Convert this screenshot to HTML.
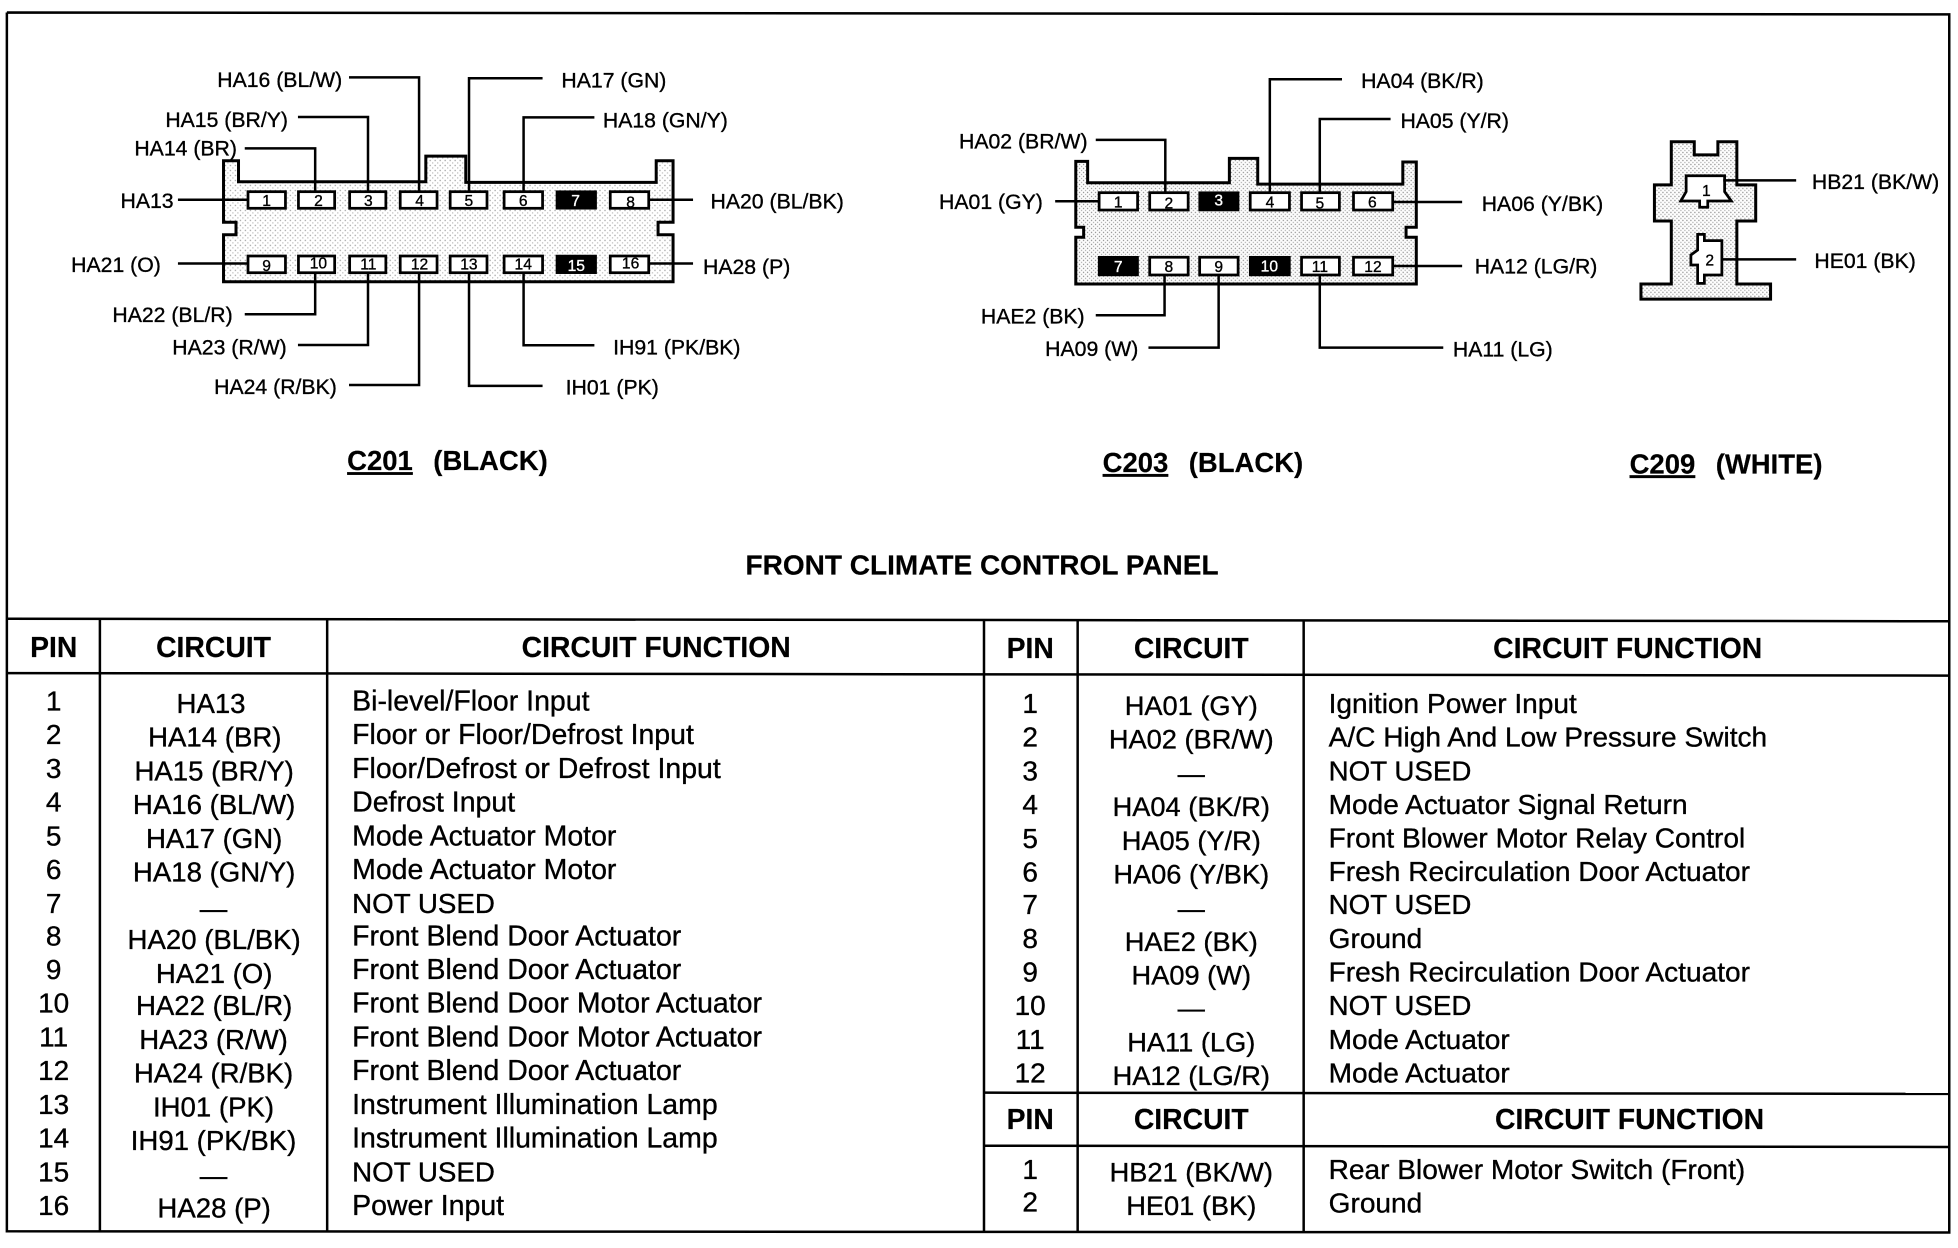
<!DOCTYPE html>
<html><head><meta charset="utf-8"><title>Front Climate Control Panel</title>
<style>
html,body{margin:0;padding:0;background:#fff;width:1958px;height:1248px;overflow:hidden}
svg{display:block;position:absolute;left:0;top:0}
text{font-family:"Liberation Sans",Arial,sans-serif;fill:#000;stroke:#000;stroke-width:.28}
.l{font-size:17px}
.t{font-size:22.4px}
.h{font-size:22.7px}
.fl{font-size:22.8px}
.fr{font-size:22.5px}
.cl{font-size:22.1px}
.cr{font-size:21.8px}
.c{text-anchor:middle}
.b{font-weight:bold;stroke-width:.15}
.ti{font-size:22px}
.n{font-size:12.5px;text-anchor:middle}
.w{font-size:12.5px;text-anchor:middle;fill:#fff;stroke:#fff}
.ln{fill:none;stroke:#000;stroke-width:2}
.p{fill:#fff;stroke:#000;stroke-width:2.2}
.k{fill:#000;stroke:#000;stroke-width:2}
.o{fill:url(#st);stroke:#000;stroke-width:2.4;stroke-linejoin:miter}
.o2{fill:url(#st2);stroke:#000;stroke-width:2.4;stroke-linejoin:miter}
.g{fill:none;stroke:#000;stroke-width:2}
</style></head><body>
<svg width="1958" height="1248" viewBox="0 0 1568 999.4" preserveAspectRatio="none" xmlns="http://www.w3.org/2000/svg">
<defs>
<pattern id="st" width="4" height="4" patternUnits="userSpaceOnUse"><rect width="4" height="4" fill="#fff"/><rect x="0" y="0" width="1" height="1" fill="#999"/><rect x="2" y="2" width="1" height="1" fill="#bbb"/></pattern>
<pattern id="st2" width="3.2" height="3.2" patternUnits="userSpaceOnUse"><rect width="3.2" height="3.2" fill="#fff"/><rect x="0" y="0" width="1" height="1" fill="#888"/><rect x="1.6" y="1.6" width="1" height="1" fill="#aaa"/></pattern>
</defs>
<rect width="1568" height="1000" fill="#fff"/>

<!-- frame -->
<polyline class="g" points="5.5,10 1561,11.5 1561,987 5.5,986 5.5,10"/>
<line class="g" x1="5.5" y1="495.5" x2="1561" y2="497.5"/>
<line class="g" x1="5.5" y1="539" x2="1561" y2="541"/>
<line class="g" x1="80" y1="496" x2="80" y2="986"/>
<line class="g" x1="262" y1="496" x2="262" y2="986"/>
<line class="g" x1="788" y1="496" x2="788" y2="987"/>
<line class="g" x1="863" y1="497" x2="863" y2="987"/>
<line class="g" x1="1044" y1="497" x2="1044" y2="987"/>
<line class="g" x1="788" y1="875" x2="1561" y2="876"/>
<line class="g" x1="788" y1="917.5" x2="1561" y2="918.5"/>

<!-- C201 connector -->
<path class="o" d="M179,128.7H191V145.5H341V125H373V146H525.5V128.7H539V178H527V188H539V225.6H179V188H189V178H179Z"/>
<g class="ln">
<polyline points="279.5,62 335.6,62 335.6,153"/>
<polyline points="434.5,62.7 375.6,62.7 375.6,153"/>
<polyline points="238.6,93.7 294.7,93.7 294.7,153"/>
<polyline points="476,94 419.3,94 419.3,153"/>
<polyline points="196,118.8 252.4,118.8 252.4,153"/>
<polyline points="142.5,160 198.6,160"/>
<polyline points="519.5,160 555,160"/>
<polyline points="142.5,211 198.6,211"/>
<polyline points="519.5,211 555,211"/>
<polyline points="252.4,218 252.4,251.7 196,251.7"/>
<polyline points="294.7,218 294.7,276.3 238.6,276.3"/>
<polyline points="335.6,218 335.6,308.3 279.5,308.3"/>
<polyline points="375.6,218 375.6,309 434.5,309"/>
<polyline points="419.3,218 419.3,276.5 476,276.5"/>
</g>
<rect class="p" x="198.6" y="153.5" width="30" height="13.3"/><rect class="p" x="239" y="153.5" width="29" height="13.3"/><rect class="p" x="280" y="153.5" width="29" height="13.3"/><rect class="p" x="320.5" y="153.5" width="29.5" height="13.3"/><rect class="p" x="360.5" y="153.5" width="29.5" height="13.3"/><rect class="p" x="403.7" y="153.5" width="30.8" height="13.3"/><rect class="k" x="446" y="153.5" width="31" height="13.3"/><rect class="p" x="488.7" y="153.5" width="30.8" height="13.3"/>
<rect class="p" x="198.6" y="205" width="30" height="13.4"/><rect class="p" x="239" y="205" width="29" height="13.4"/><rect class="p" x="280" y="205" width="29" height="13.4"/><rect class="p" x="320.5" y="205" width="29.5" height="13.4"/><rect class="p" x="360.5" y="205" width="29.5" height="13.4"/><rect class="p" x="403.7" y="205" width="30.8" height="13.4"/><rect class="k" x="446" y="205" width="31" height="13.4"/><rect class="p" x="488.7" y="205" width="30.8" height="13.4"/>
<text class="n" x="213.5" y="165">1</text><text class="n" x="255" y="165">2</text><text class="n" x="295" y="165">3</text><text class="n" x="336" y="165">4</text><text class="n" x="375.5" y="165">5</text><text class="n" x="419" y="165">6</text><text class="w" x="461" y="165">7</text><text class="n" x="505" y="166">8</text>
<text class="n" x="213.5" y="217">9</text><text class="n" x="255" y="215">10</text><text class="n" x="295" y="216">11</text><text class="n" x="336" y="216">12</text><text class="n" x="375.5" y="216">13</text><text class="n" x="419" y="216">14</text><text class="w" x="461.5" y="217">15</text><text class="n" x="505" y="215">16</text>

<text class="l" x="174" y="69.5">HA16 (BL/W)</text>
<text class="l" x="449.6" y="70">HA17 (GN)</text>
<text class="l" x="132.4" y="101.6">HA15 (BR/Y)</text>
<text class="l" x="482.8" y="102">HA18 (GN/Y)</text>
<text class="l" x="107.6" y="124.5">HA14 (BR)</text>
<text class="l" x="96.5" y="166.5">HA13</text>
<text class="l" x="569" y="167">HA20 (BL/BK)</text>
<text class="l" x="57" y="218">HA21 (O)</text>
<text class="l" x="563" y="219.5">HA28 (P)</text>
<text class="l" x="90" y="258">HA22 (BL/R)</text>
<text class="l" x="138" y="284">HA23 (R/W)</text>
<text class="l" x="171.5" y="315.5">HA24 (R/BK)</text>
<text class="l" x="491" y="284">IH91 (PK/BK)</text>
<text class="l" x="453" y="316">IH01 (PK)</text>

<!-- C203 connector -->
<path class="o2" d="M861.5,129.2H871V146.3H984.5V126.8H1007.2V147.4H1123.4V129.7H1134.2V182H1126V190H1134.2V227.4H861.5V190H867.8V182H861.5Z"/>
<g class="ln">
<polyline points="877.5,112 933.2,112 933.2,154"/>
<polyline points="1074.7,63.5 1016.9,63.5 1016.9,154"/>
<polyline points="1113.6,95.3 1056.9,95.3 1056.9,154"/>
<polyline points="845,161.2 880.2,161.2"/>
<polyline points="1115.3,161.8 1170.9,161.8"/>
<polyline points="1115.3,213 1170.9,213"/>
<polyline points="932.6,220 932.6,252.5 877.5,252.5"/>
<polyline points="975.9,220 975.9,278.4 919.7,278.4"/>
<polyline points="1056.9,220 1056.9,278.4 1155.8,278.4"/>
</g>
<rect class="p" x="880.2" y="154.3" width="30.8" height="13.9"/><rect class="p" x="920.7" y="154.3" width="30.8" height="13.9"/><rect class="k" x="960.7" y="154.3" width="30.8" height="13.9"/><rect class="p" x="1001.2" y="154.3" width="31.4" height="13.9"/><rect class="p" x="1042.3" y="154.3" width="30.3" height="13.9"/><rect class="p" x="1083.9" y="154.3" width="31.4" height="13.9"/>
<rect class="k" x="880.2" y="206" width="30.8" height="14.2"/><rect class="p" x="920.7" y="206" width="30.8" height="14.2"/><rect class="p" x="960.7" y="206" width="30.8" height="14.2"/><rect class="k" x="1001.2" y="206" width="31.4" height="14.2"/><rect class="p" x="1042.3" y="206" width="30.3" height="14.2"/><rect class="p" x="1083.9" y="206" width="31.4" height="14.2"/>
<text class="n" x="895.5" y="166">1</text><text class="n" x="936" y="167">2</text><text class="w" x="976" y="164.5">3</text><text class="n" x="1017" y="166">4</text><text class="n" x="1057" y="167">5</text><text class="n" x="1099" y="166">6</text>
<text class="w" x="895.5" y="218">7</text><text class="n" x="936" y="218">8</text><text class="n" x="976" y="218">9</text><text class="w" x="1016.5" y="217.5">10</text><text class="n" x="1057" y="218">11</text><text class="n" x="1099.5" y="218">12</text>

<text class="l" x="1090" y="70.5">HA04 (BK/R)</text>
<text class="l" x="1121.5" y="102.5">HA05 (Y/R)</text>
<text class="l" x="768" y="119">HA02 (BR/W)</text>
<text class="l" x="752" y="167.5">HA01 (GY)</text>
<text class="l" x="1186.6" y="169">HA06 (Y/BK)</text>
<text class="l" x="1181" y="219">HA12 (LG/R)</text>
<text class="l" x="785.5" y="259">HAE2 (BK)</text>
<text class="l" x="837" y="285">HA09 (W)</text>
<text class="l" x="1163.5" y="285.5">HA11 (LG)</text>

<!-- C209 connector -->
<path class="o2" d="M1338.4,113.5H1356.8V124H1375.7V113.5H1390.9V148H1406V177H1390.9V227.4H1417.9V239.5H1314.1V227.4H1338.4V177H1324.9V148H1338.4Z"/>
<path class="p" d="M1350.3,140.7H1381.1V153.5L1386.5,161H1367.6V166H1361.1V161H1346L1350.3,153.5Z"/>
<path class="p" d="M1359.5,187.7H1364.9V192.7H1378.9V220.2H1364.9V226.9H1359.5V212.2H1354.1V204.2L1359.5,200.2Z"/>
<polyline class="ln" points="1380,144.4 1438.4,144.4"/>
<polyline class="ln" points="1378.9,207.7 1438.4,207.7"/>
<text class="n" x="1366.5" y="157">1</text><text class="n" x="1369.2" y="212.5">2</text>
<text class="l" x="1451" y="151.5">HB21 (BK/W)</text>
<text class="l" x="1453" y="214.5">HE01 (BK)</text>

<!-- titles -->
<text class="ti b" x="278" y="376.5" style="text-decoration:underline">C201</text>
<text class="ti b" x="347" y="376.5">(BLACK)</text>
<text class="ti b" x="883" y="378" style="text-decoration:underline">C203</text>
<text class="ti b" x="952" y="378">(BLACK)</text>
<text class="ti b" x="1305" y="379" style="text-decoration:underline">C209</text>
<text class="ti b" x="1374" y="379">(WHITE)</text>
<text class="b" x="597" y="460" style="font-size:22.45px">FRONT CLIMATE CONTROL PANEL</text>

<!-- headers -->
<text class="h b c" x="43" y="526">PIN</text><text class="h b c" x="171" y="526">CIRCUIT</text><text class="h b c" x="525.5" y="526">CIRCUIT FUNCTION</text>
<text class="h b c" x="825" y="527">PIN</text><text class="h b c" x="954" y="527">CIRCUIT</text><text class="h b c" x="1303.5" y="527">CIRCUIT FUNCTION</text>
<text class="h b c" x="825" y="904">PIN</text><text class="h b c" x="954" y="904">CIRCUIT</text><text class="h b c" x="1305" y="904">CIRCUIT FUNCTION</text>

<!-- left table pins -->
<text class="t c" x="43" y="569">1</text><text class="t c" x="43" y="596">2</text><text class="t c" x="43" y="623">3</text><text class="t c" x="43" y="650">4</text><text class="t c" x="43" y="677">5</text><text class="t c" x="43" y="704">6</text><text class="t c" x="43" y="731">7</text><text class="t c" x="43" y="757">8</text><text class="t c" x="43" y="784">9</text><text class="t c" x="43" y="811">10</text><text class="t c" x="43" y="838">11</text><text class="t c" x="43" y="865">12</text><text class="t c" x="43" y="892">13</text><text class="t c" x="43" y="919">14</text><text class="t c" x="43" y="946">15</text><text class="t c" x="43" y="973">16</text>

<!-- left table circuits -->
<text class="cl c" x="169" y="571">HA13</text><text class="cl c" x="172" y="598">HA14 (BR)</text><text class="cl c" x="171.5" y="625">HA15 (BR/Y)</text><text class="cl c" x="171.5" y="652">HA16 (BL/W)</text><text class="cl c" x="171.5" y="679">HA17 (GN)</text><text class="cl c" x="171.5" y="706">HA18 (GN/Y)</text><text class="cl c" x="171" y="735">—</text><text class="cl c" x="171.5" y="760">HA20 (BL/BK)</text><text class="cl c" x="171.5" y="787">HA21 (O)</text><text class="cl c" x="171.5" y="813">HA22 (BL/R)</text><text class="cl c" x="171" y="840">HA23 (R/W)</text><text class="cl c" x="171" y="867">HA24 (R/BK)</text><text class="cl c" x="171" y="894">IH01 (PK)</text><text class="cl c" x="171" y="921">IH91 (PK/BK)</text><text class="cl c" x="171" y="949">—</text><text class="cl c" x="171.5" y="975">HA28 (P)</text>

<!-- left table functions -->
<text class="fl" x="282" y="569">Bi-level/Floor Input</text><text class="fl" x="282" y="596">Floor or Floor/Defrost Input</text><text class="fl" x="282" y="623">Floor/Defrost or Defrost Input</text><text class="fl" x="282" y="650">Defrost Input</text><text class="fl" x="282" y="677">Mode Actuator Motor</text><text class="fl" x="282" y="704">Mode Actuator Motor</text><text class="fl" x="282" y="731" style="font-size:22.2px">NOT USED</text><text class="fl" x="282" y="757">Front Blend Door Actuator</text><text class="fl" x="282" y="784">Front Blend Door Actuator</text><text class="fl" x="282" y="811">Front Blend Door Motor Actuator</text><text class="fl" x="282" y="838">Front Blend Door Motor Actuator</text><text class="fl" x="282" y="865">Front Blend Door Actuator</text><text class="fl" x="282" y="892">Instrument Illumination Lamp</text><text class="fl" x="282" y="919">Instrument Illumination Lamp</text><text class="fl" x="282" y="946" style="font-size:22.2px">NOT USED</text><text class="fl" x="282" y="973">Power Input</text>

<!-- right table pins -->
<text class="t c" x="825" y="571">1</text><text class="t c" x="825" y="598">2</text><text class="t c" x="825" y="625">3</text><text class="t c" x="825" y="652">4</text><text class="t c" x="825" y="679">5</text><text class="t c" x="825" y="706">6</text><text class="t c" x="825" y="732">7</text><text class="t c" x="825" y="759">8</text><text class="t c" x="825" y="786">9</text><text class="t c" x="825" y="813">10</text><text class="t c" x="825" y="840">11</text><text class="t c" x="825" y="867">12</text>
<text class="t c" x="825" y="944">1</text><text class="t c" x="825" y="970">2</text>

<!-- right table circuits -->
<text class="cr c" x="954" y="572.5">HA01 (GY)</text><text class="cr c" x="954" y="599.5">HA02 (BR/W)</text><text class="cr c" x="954" y="627">—</text><text class="cr c" x="954" y="653.5">HA04 (BK/R)</text><text class="cr c" x="954" y="680.5">HA05 (Y/R)</text><text class="cr c" x="954" y="707.5">HA06 (Y/BK)</text><text class="cr c" x="954" y="735">—</text><text class="cr c" x="954" y="761.5">HAE2 (BK)</text><text class="cr c" x="954" y="788.5">HA09 (W)</text><text class="cr c" x="954" y="815">—</text><text class="cr c" x="954" y="842">HA11 (LG)</text><text class="cr c" x="954" y="869">HA12 (LG/R)</text>
<text class="cr c" x="954" y="946">HB21 (BK/W)</text><text class="cr c" x="954" y="973">HE01 (BK)</text>

<!-- right table functions -->
<text class="fr" x="1064" y="571">Ignition Power Input</text><text class="fr" x="1064" y="598">A/C High And Low Pressure Switch</text><text class="fr" x="1064" y="625" style="font-size:22.2px">NOT USED</text><text class="fr" x="1064" y="652">Mode Actuator Signal Return</text><text class="fr" x="1064" y="678.5">Front Blower Motor Relay Control</text><text class="fr" x="1064" y="705.5">Fresh Recirculation Door Actuator</text><text class="fr" x="1064" y="732" style="font-size:22.2px">NOT USED</text><text class="fr" x="1064" y="759">Ground</text><text class="fr" x="1064" y="786">Fresh Recirculation Door Actuator</text><text class="fr" x="1064" y="813" style="font-size:22.2px">NOT USED</text><text class="fr" x="1064" y="840">Mode Actuator</text><text class="fr" x="1064" y="867">Mode Actuator</text>
<text class="fr" x="1064" y="944">Rear Blower Motor Switch (Front)</text><text class="fr" x="1064" y="971">Ground</text>
</svg>
</body></html>
